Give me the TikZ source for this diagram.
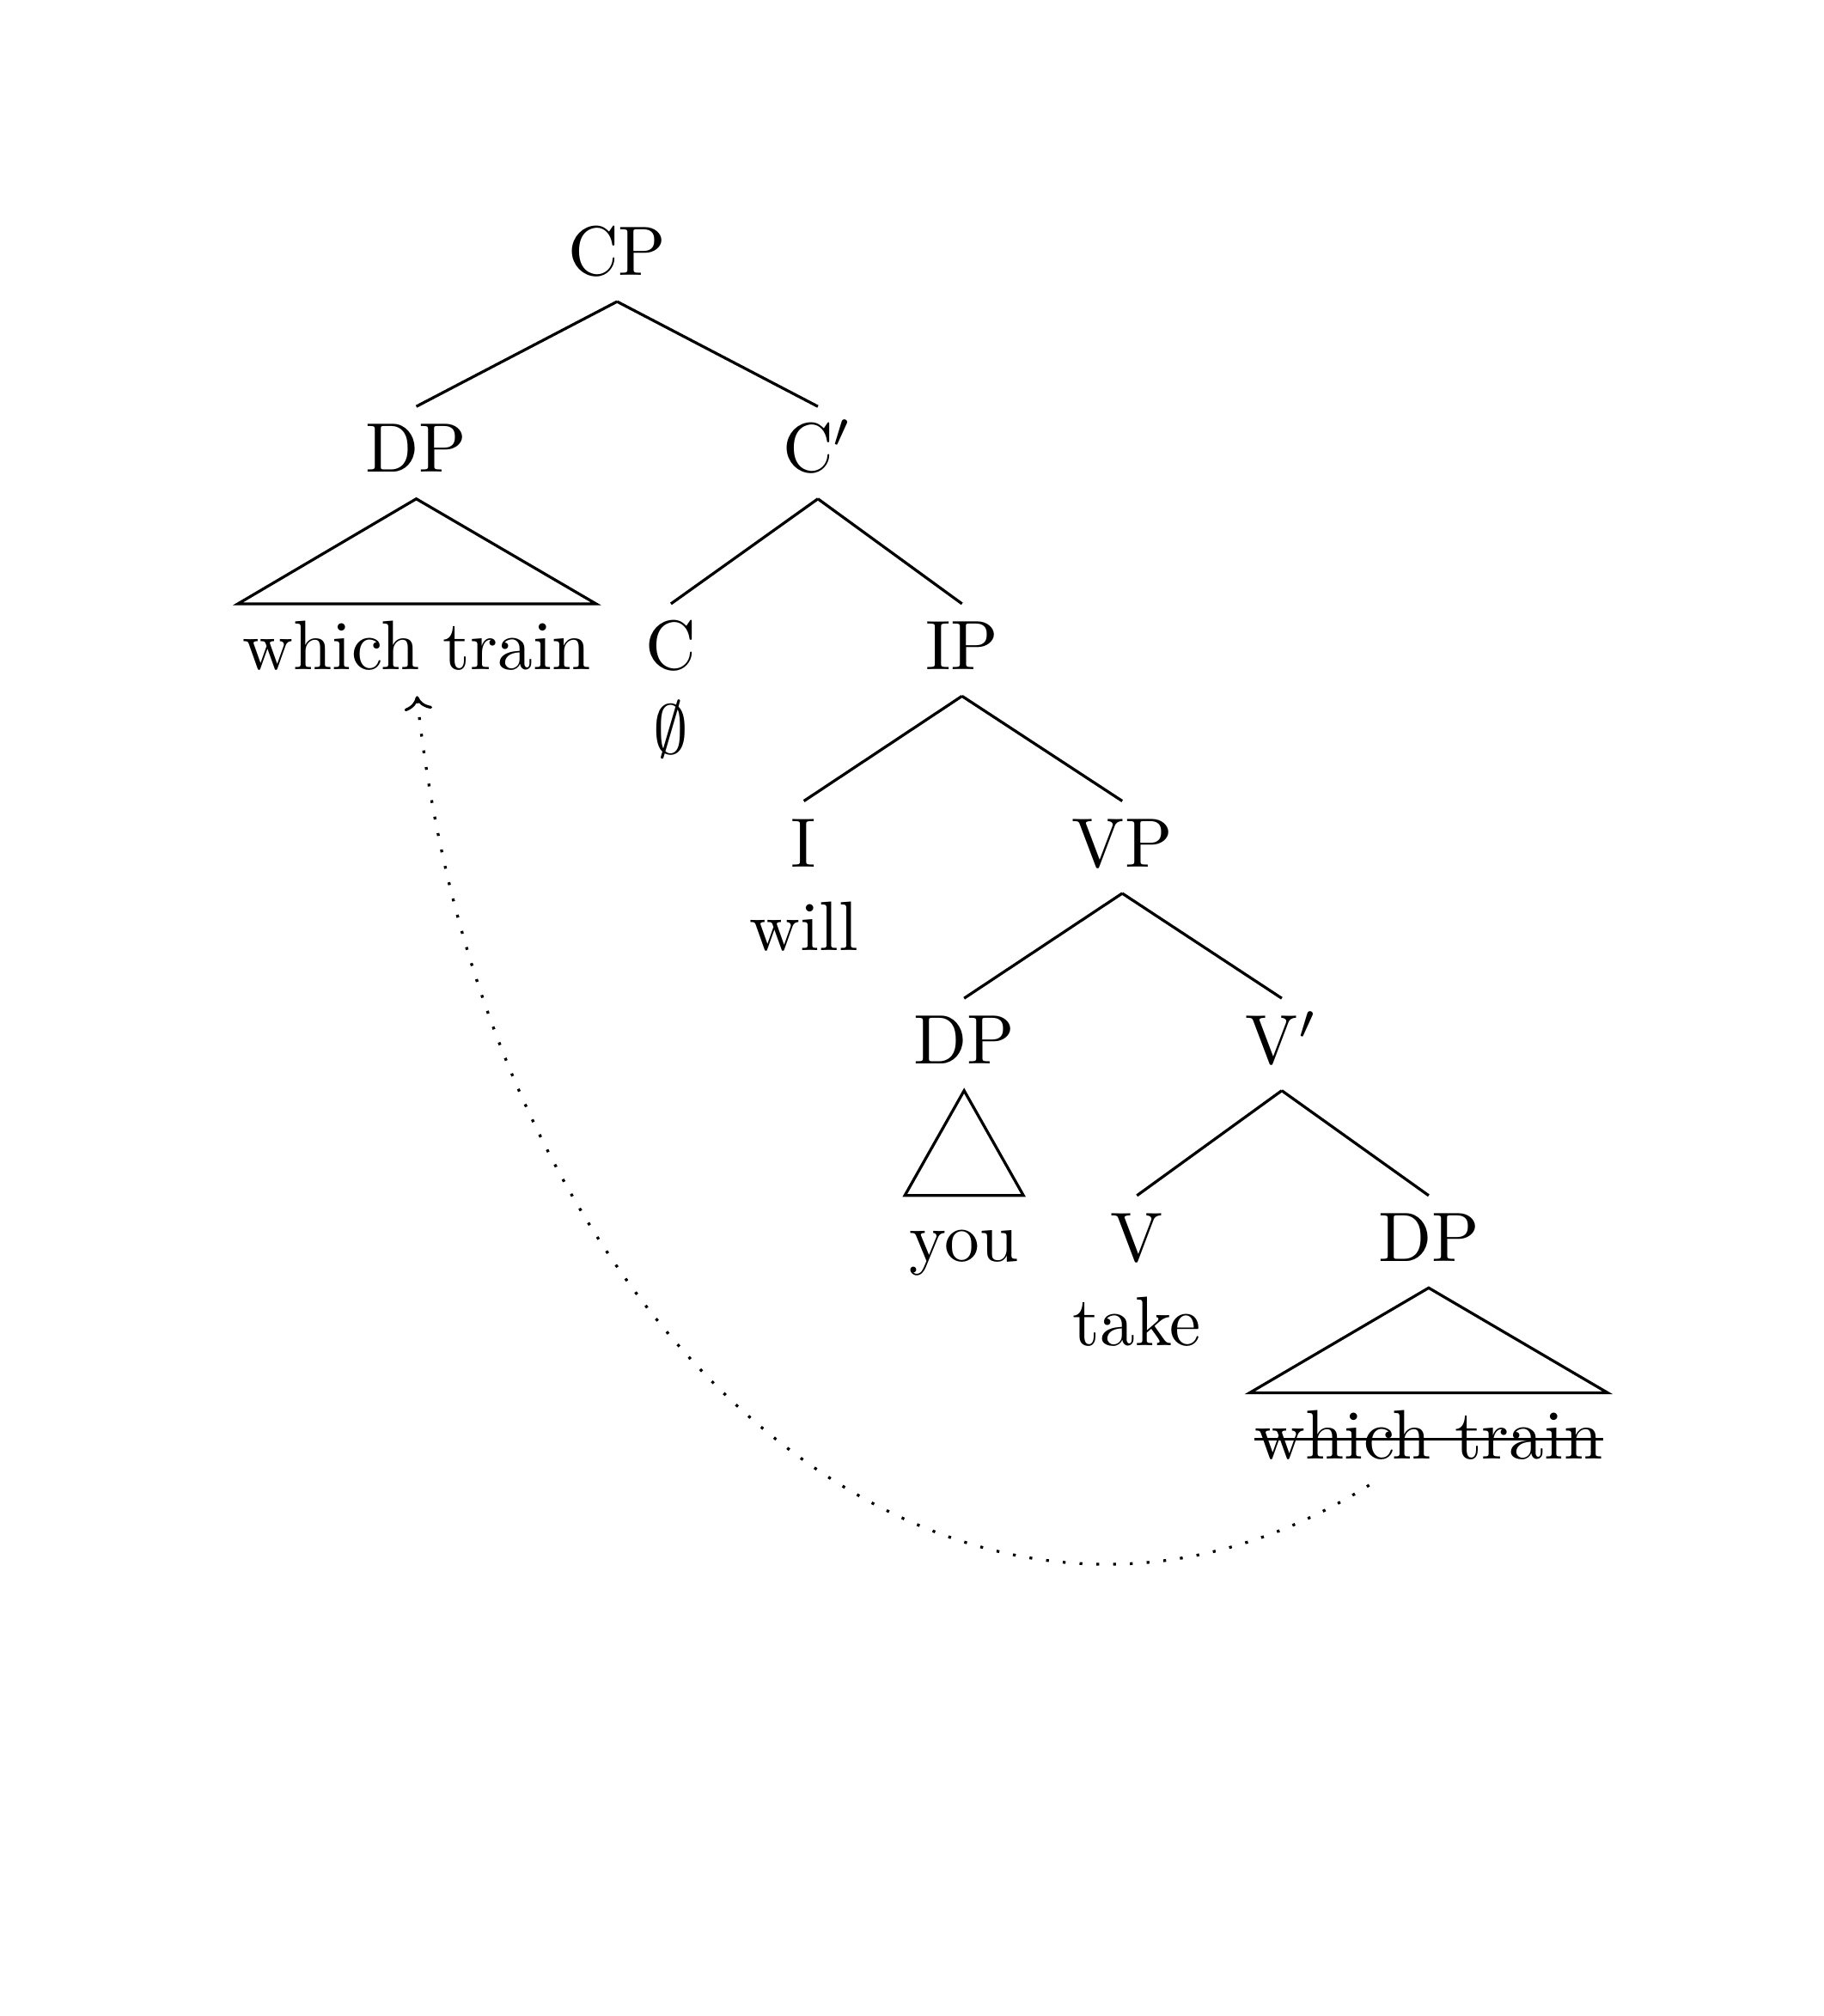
\documentclass[tikz,border=0pt]{standalone}
\usepackage{tikz}
\usetikzlibrary{arrows.meta}
\pgfkeys{/treegrid/.code=\tikzset{x={(1pt,0pt)},y={(0pt,-28.2pt)}}}
\tikzset{cat/.style={anchor=base,inner sep=0.5pt,text height=8.7pt,text depth=3.1pt}}
\newcommand{\branch}[3]{\draw (#1.south)--(#2.north) (#1.south)--(#3.north);}
\newcommand{\roof}[2]{\draw (#1.south)--(#2.north west)--(#2.north east)--cycle;}
\newcommand{\word}[3]{\node[cat] (#2) at ([yshift=-12pt]#1.base) {#3};}
\newcommand{\struck}[1]{\setbox0\hbox{#1}\rlap{\rule[2.6pt]{\wd0}{0.4pt}}\box0}

\begin{document}
\begin{tikzpicture}[/treegrid]
  \useasboundingbox (-88.2,-1.394) rectangle (172.4,8.826);

  \node[cat] (cp) at (0,0) {CP};
  \node[cat] (dpa) at (-28.7,1) {DP};
  \node[cat] (cbar) at (28.7,1) {C$'$};
  \node[cat] (wta) at (-28.6,2) {which train};
  \node[cat] (c) at (7.7,2) {C};
  \node[cat] (ip) at (49.3,2) {IP};
  \node[cat] (i) at (26.7,3) {I};
  \node[cat] (vp) at (72.2,3) {VP};
  \node[cat] (dpb) at (49.6,4) {DP};
  \node[cat] (vbar) at (95,4) {V$'$};
  \node[cat] (you) at (49.6,5) {you};
  \node[cat] (v) at (74.3,5) {V};
  \node[cat] (dpc) at (116,5) {DP};
  \node[cat] (wtc) at (116,6) {\struck{which train}};
  \word{c}{empty}{$\emptyset$}
  \word{i}{will}{will}
  \word{v}{take}{take}

  \branch{cp}{dpa}{cbar}
  \branch{cbar}{c}{ip}
  \branch{ip}{i}{vp}
  \branch{vp}{dpb}{vbar}
  \branch{vbar}{v}{dpc}
  \roof{dpa}{wta}
  \roof{dpb}{you}
  \roof{dpc}{wtc}

  % movement
  \draw[dotted,-{To[length=2pt,width=4pt]}] ([xshift=-8.5pt]wtc.south) .. controls +(-148:70pt) and +(-84:92pt) .. (wta.south);
\end{tikzpicture}
\end{document}
